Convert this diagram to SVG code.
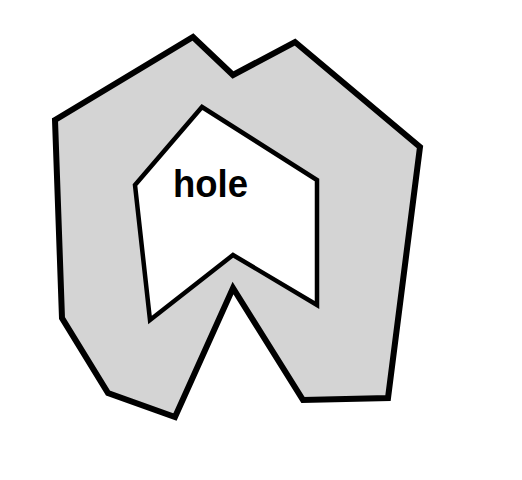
<svg xmlns="http://www.w3.org/2000/svg" width="522" height="480" viewBox="0 0 522 480">
<style>
.region{fill:#d4d4d4;fill-rule:evenodd;stroke:none}
.outer{fill:none;stroke:#000;stroke-width:6;stroke-linejoin:miter}
.inner{fill:none;stroke:#000;stroke-width:4.5;stroke-linejoin:miter}
.label{font-family:"Liberation Sans",Arial,sans-serif;font-weight:bold;font-size:39px;fill:#000}
</style>
<rect width="522" height="480" fill="#fff"/>
<g id="polygon">
<path class="region" d="M55,120 L193,37 L233,75 L295,42 L420,147 L388,398 L303,400 L233,288 L175,417 L108,393 L62,318 Z M202,107 L317,180 L317,305 L233,255 L150,320 L135,185 Z"/>
<polygon class="outer" points="55,120 193,37 233,75 295,42 420,147 388,398 303,400 233,288 175,417 108,393 62,318"/>
</g>
<g id="hole">
<polygon class="inner" points="202,107 317,180 317,305 233,255 150,320 135,185"/>
<text class="label" x="173" y="197" textLength="75" lengthAdjust="spacingAndGlyphs">hole</text>
</g>
</svg>
